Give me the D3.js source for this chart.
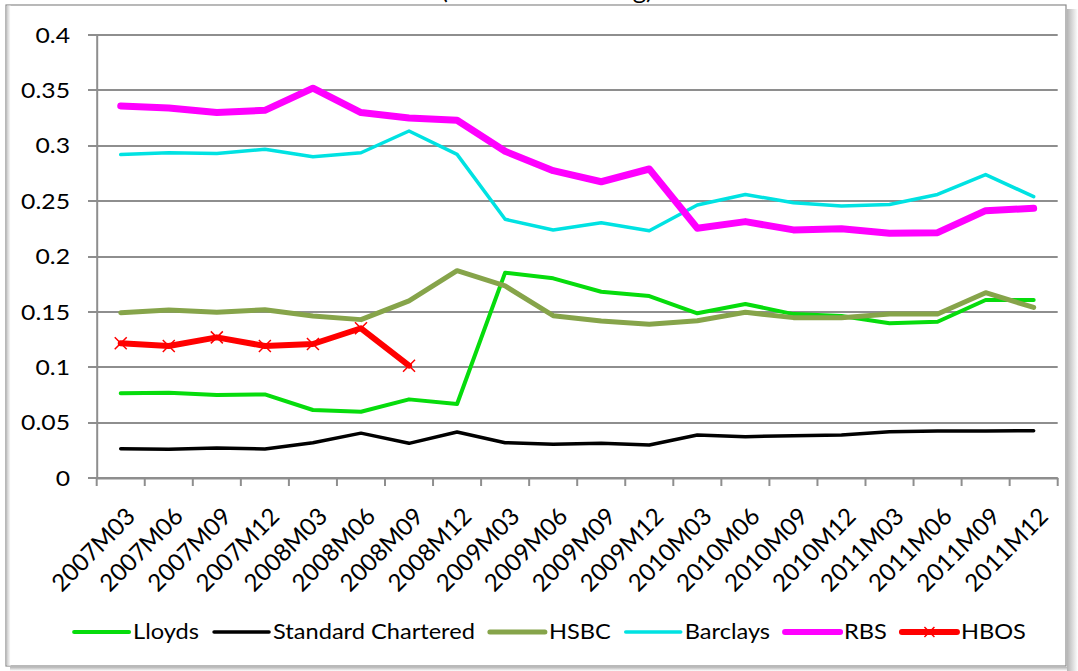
<!DOCTYPE html>
<html>
<head>
<meta charset="utf-8">
<script src="https://cdn.jsdelivr.net/npm/d3@7"></script>
<style>
  html, body { margin: 0; padding: 0; background: #ffffff; }
  svg { display: block; font-family: Lato, "Open Sans", sans-serif; }
</style>
</head>
<body>
<svg id="chart" width="1078" height="671"></svg>
<script>
const categories = ["2007M03","2007M06","2007M09","2007M12","2008M03","2008M06","2008M09","2008M12",
  "2009M03","2009M06","2009M09","2009M12","2010M03","2010M06","2010M09","2010M12",
  "2011M03","2011M06","2011M09","2011M12"];
const yTickValues = [0, 0.05, 0.1, 0.15, 0.2, 0.25, 0.3, 0.35, 0.4];
const yTickLabels = ["0", "0.05", "0.1", "0.15", "0.2", "0.25", "0.3", "0.35", "0.4"];
const titleText = "(% of total lending)";

const lloyds = [0.0765, 0.077, 0.075, 0.0755, 0.0614, 0.0598, 0.071, 0.0668, 0.1854, 0.1803,
  0.1682, 0.1643, 0.1487, 0.1571, 0.148, 0.1463, 0.1397, 0.1411, 0.1607, 0.1607];
const standardChartered = [0.0265, 0.0259, 0.0271, 0.0262, 0.0319, 0.0405, 0.0313, 0.0415, 0.0319, 0.0304,
  0.0313, 0.0298, 0.0388, 0.0373, 0.0382, 0.0388, 0.0418, 0.0424, 0.0424, 0.0427];
const hsbc = [0.1493, 0.1517, 0.1496, 0.152, 0.1463, 0.143, 0.160, 0.1872, 0.1734, 0.1466,
  0.1418, 0.1388, 0.142, 0.1496, 0.1448, 0.1448, 0.148, 0.148, 0.1673, 0.154];
const barclays = [0.292, 0.2937, 0.293, 0.2968, 0.290, 0.2937, 0.3133, 0.2922, 0.2336, 0.224,
  0.2305, 0.2233, 0.2465, 0.256, 0.2486, 0.2456, 0.247, 0.256, 0.274, 0.254];
const rbs = [0.336, 0.334, 0.330, 0.332, 0.352, 0.330, 0.325, 0.323, 0.295, 0.2775,
  0.2675, 0.279, 0.2255, 0.2315, 0.224, 0.225, 0.221, 0.2215, 0.2414, 0.2435];
const hbos = [0.1216, 0.1192, 0.127, 0.1192, 0.121, 0.1352, 0.1014, null, null, null,
  null, null, null, null, null, null, null, null, null, null];

const seriesNames = ["Lloyds", "Standard Chartered", "HSBC", "Barclays", "RBS", "HBOS"];
const seriesColors = ["#06dc0c", "#000000", "#86a44a", "#00e2e2", "#ff00ff", "#ff0000"];
const seriesWidths = [4, 3.5, 5, 3.5, 7, 6];
const seriesValues = [lloyds, standardChartered, hsbc, barclays, rbs, hbos];

const svg = d3.select("#chart");
const FS = 21;

// stretch factor so horizontal text has the reference's wide proportions
const probe = svg.append("text").attr("font-size", FS).text("Standard Chartered");
const SX = 202 / probe.node().getComputedTextLength();
probe.remove();

// frame with shadow
const defs = svg.append("defs");
const gR = defs.append("linearGradient").attr("id", "shR").attr("x1", 0).attr("x2", 1).attr("y1", 0).attr("y2", 0);
gR.append("stop").attr("offset", 0).attr("stop-color", "#b5b5b5");
gR.append("stop").attr("offset", 1).attr("stop-color", "#ffffff");
const gB = defs.append("linearGradient").attr("id", "shB").attr("x1", 0).attr("x2", 0).attr("y1", 0).attr("y2", 1);
gB.append("stop").attr("offset", 0).attr("stop-color", "#b5b5b5");
gB.append("stop").attr("offset", 1).attr("stop-color", "#ffffff");
const gL = defs.append("linearGradient").attr("id", "shL").attr("x1", 0).attr("x2", 1).attr("y1", 0).attr("y2", 0);
gL.append("stop").attr("offset", 0).attr("stop-color", "#c8c8c8");
gL.append("stop").attr("offset", 1).attr("stop-color", "#ffffff");

svg.append("rect").attr("x", 1067).attr("y", 9).attr("width", 11).attr("height", 662).attr("fill", "url(#shR)");
svg.append("rect").attr("x", 10).attr("y", 667).attr("width", 1057).attr("height", 4).attr("fill", "url(#shB)");
svg.append("rect").attr("x", 6).attr("y", 5).attr("width", 1060).attr("height", 661)
  .attr("fill", "#ffffff").attr("stroke", "#8a8a8a").attr("stroke-width", 1.2);
svg.append("rect").attr("x", 6.6).attr("y", 5.6).attr("width", 4).attr("height", 660).attr("fill", "url(#shL)");

// title, clipped at the top edge (only its lowest part is visible, as in the reference)
svg.append("text").attr("transform", `translate(547,-1) scale(${SX},1)`).attr("text-anchor", "middle")
  .attr("font-size", 23).attr("fill", "#000").text(titleText);

const x = d3.scaleBand().domain(categories).range([96.7, 1057.7]).padding(0);
const y = d3.scaleLinear().domain([0, 0.4]).range([478, 35]);
const cx = d => x(d) + x.bandwidth() / 2;

// gridlines (incl. left tick stubs)
svg.append("g").selectAll("line").data(yTickValues).join("line")
  .attr("x1", 88).attr("x2", 1057.7)
  .attr("y1", d => Math.round(y(d))).attr("y2", d => Math.round(y(d)))
  .attr("stroke", "#8e8e8e").attr("stroke-width", 2);

// y axis line
const yAxis = d3.axisLeft(y).tickValues(yTickValues).tickFormat(() => "").tickSize(0);
const gy = svg.append("g").attr("transform", "translate(96.7,0)").call(yAxis);
gy.select(".domain").attr("stroke", "#8e8e8e").attr("stroke-width", 2);

// y tick labels
svg.append("g").selectAll("text").data(yTickValues).join("text")
  .attr("transform", d => `translate(70,${y(d)}) scale(${SX},1)`)
  .attr("text-anchor", "end").attr("dy", "0.35em")
  .attr("font-size", 22).attr("fill", "#000").text((d, i) => yTickLabels[i]);

// x axis
const xAxis = d3.axisBottom(x).tickSize(0).tickFormat(() => "");
const gx = svg.append("g").attr("transform", "translate(0,478)").call(xAxis);
gx.select(".domain").attr("stroke", "#8e8e8e").attr("stroke-width", 2);
const boundaries = categories.map(c => x(c)).concat([x(categories[categories.length - 1]) + x.bandwidth()]);
svg.append("g").selectAll("line").data(boundaries).join("line")
  .attr("x1", d => d).attr("x2", d => d).attr("y1", 478).attr("y2", 486)
  .attr("stroke", "#8e8e8e").attr("stroke-width", 2);

// x labels: size so a label is ~106px long
const probe2 = svg.append("text").attr("font-size", 20).text(categories[0]);
const XFS = 20 * 106 / probe2.node().getComputedTextLength();
probe2.remove();
svg.append("g").selectAll("text").data(categories).join("text")
  .attr("transform", d => `translate(${cx(d) + 10},${512}) rotate(-45)`)
  .attr("text-anchor", "end").attr("dy", "0.35em")
  .attr("font-size", XFS).attr("fill", "#000").text(d => d);

// lines
const line = d3.line().defined(d => d.v !== null).x(d => cx(d.c)).y(d => y(d.v));
const plot = svg.append("g");
seriesValues.forEach((vals, si) => {
  const data = categories.map((c, i) => ({ c, v: vals[i] }));
  plot.append("path").datum(data).attr("d", line)
    .attr("fill", "none").attr("stroke", seriesColors[si]).attr("stroke-width", seriesWidths[si])
    .attr("stroke-linejoin", "round").attr("stroke-linecap", "round");
});
// HBOS markers
const hbosPts = categories.map((c, i) => ({ c, v: hbos[i] })).filter(d => d.v !== null);
const mk = 6;
plot.append("g").selectAll("path").data(hbosPts).join("path")
  .attr("d", d => {
    const px = cx(d.c), py = y(d.v);
    return `M${px - mk},${py - mk}L${px + mk},${py + mk}M${px - mk},${py + mk}L${px + mk},${py - mk}`;
  })
  .attr("stroke", "#ff0000").attr("stroke-width", 1.5).attr("fill", "none");

// legend
const legendY = 632;
const lg = svg.append("g");
const items = lg.selectAll("g").data(seriesNames).join("g");
items.append("line").attr("x1", 0).attr("x2", 55).attr("y1", 0).attr("y2", 0)
  .attr("stroke", (d, i) => seriesColors[i]).attr("stroke-width", (d, i) => Math.min(seriesWidths[i], 6))
  .attr("stroke-linecap", "round");
items.append("text").attr("transform", `translate(59,0) scale(${SX},1)`).attr("dy", "0.35em")
  .attr("font-size", FS).attr("fill", "#000").text(d => d);
items.filter((d, i) => i === 5).append("path")
  .attr("d", `M${27.5 - 5},${-5}L${27.5 + 5},${5}M${27.5 - 5},${5}L${27.5 + 5},${-5}`)
  .attr("stroke", "#ff0000").attr("stroke-width", 1.5);
let xpos = 0;
const offsets = [];
items.each(function (d, i) {
  const w = 59 + SX * this.querySelector("text").getComputedTextLength();
  offsets.push(xpos);
  xpos += w + 15;
});
const total = xpos - 15;
const start = 550 - total / 2;
items.attr("transform", (d, i) => `translate(${start + offsets[i]},${legendY})`);
</script>
</body>
</html>
